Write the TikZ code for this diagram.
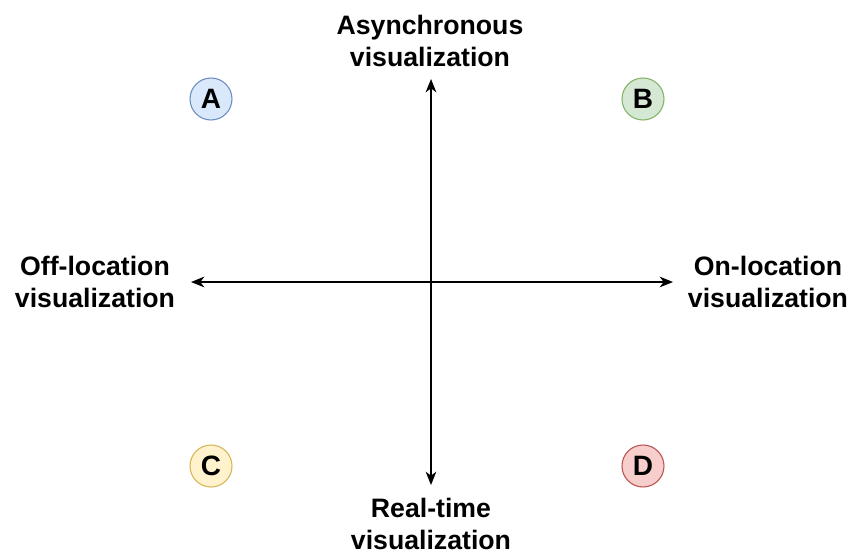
\documentclass[tikz,border=0pt]{standalone}
\usepackage{fontspec}
\setmainfont{Liberation Sans}
\usetikzlibrary{arrows.meta}
\begin{document}
\begin{tikzpicture}[x=0.75pt,y=-0.75pt,
  lbl/.style={font=\fontsize{20}{24}\selectfont\bfseries, align=center, inner sep=0pt},
  badge/.style={circle, minimum size=31.5pt, inner sep=0pt, line width=0.8pt, font=\fontsize{21}{22}\selectfont\bfseries},
  axis/.style={line width=1.1pt, {Stealth[length=10pt,width=8pt,inset=3pt]}-{Stealth[length=10pt,width=8pt,inset=3pt]}}]
\useasboundingbox (0,0) rectangle (853,554);
\definecolor{bfill}{HTML}{DAE8FC}\definecolor{bdraw}{HTML}{6C8EBF}
\definecolor{gfill}{HTML}{D5E8D4}\definecolor{gdraw}{HTML}{82B366}
\definecolor{yfill}{HTML}{FFF2CC}\definecolor{ydraw}{HTML}{D6B656}
\definecolor{rfill}{HTML}{F8CECC}\definecolor{rdraw}{HTML}{B85450}
\coordinate (top) at (431,79);
\coordinate (bot) at (431,485);
\coordinate (lft) at (191,282);
\coordinate (rgt) at (673,282);
\draw[axis] (top) -- (bot);
\draw[axis] (lft) -- (rgt);
\node[lbl] (async) at (430,41) {Asynchronous\\visualization};
\node[lbl] (off) at (95,282) {Off-location\\visualization};
\node[lbl] (on) at (768,282) {On-location\\visualization};
\node[lbl] (real) at (431,524) {Real-time\\visualization};
\node[badge, fill=bfill, draw=bdraw] (A) at (211,99) {A};
\node[badge, fill=gfill, draw=gdraw] (B) at (643,99) {B};
\node[badge, fill=yfill, draw=ydraw] (C) at (211,466) {C};
\node[badge, fill=rfill, draw=rdraw] (D) at (643,466) {D};
\end{tikzpicture}
\end{document}
